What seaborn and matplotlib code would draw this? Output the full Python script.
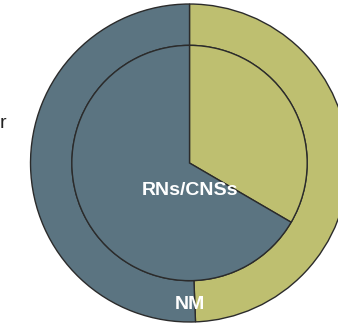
import matplotlib
matplotlib.use("Agg")
import matplotlib.pyplot as plt
import seaborn as sns

sns.set_theme(style="white")
plt.rcParams["font.family"] = ["Liberation Sans", "DejaVu Sans"]

# Ring shares (clockwise from 12 o'clock)
outer_labels = ["Other", "NM"]
outer_values = [49.4, 50.6]
inner_labels = ["Other", "RNs/CNSs"]
inner_values = [33.4, 66.6]

palette = sns.color_palette(["#bebf70", "#5b7481"])

fig = plt.figure(figsize=(3.38, 3.26), dpi=100)
ax = fig.add_axes([0, 0, 1, 1])

edge = dict(edgecolor="#2b2b2b", linewidth=1.0)
ax.pie(outer_values, colors=palette, radius=1.0, startangle=90,
       counterclock=False, wedgeprops=dict(width=0.26, **edge))
ax.pie(inner_values, colors=palette, radius=0.74, startangle=90,
       counterclock=False, wedgeprops=edge)

ax.text(0, -0.17, inner_labels[1], color="white", fontsize=14,
        fontweight="bold", ha="center", va="center")
ax.text(0, -0.893, outer_labels[1], color="white", fontsize=14,
        fontweight="bold", ha="center", va="center")
ax.text(-1.155, 0.25, "r", color="#222222", fontsize=14,
        ha="right", va="center")

ax.set_xlim(-1.192, 0.934)
ax.set_ylim(-1.025, 1.025)
ax.set_aspect("equal")
ax.axis("off")

fig.savefig("out.png", dpi=100)
